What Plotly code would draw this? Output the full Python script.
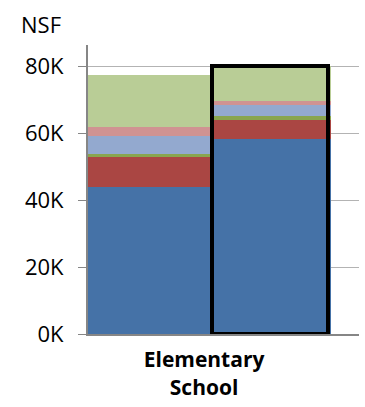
import plotly.graph_objects as go

# Data (NSF)
bar_positions = [0, 1]
series_names = ["Series 1", "Series 2", "Series 3", "Series 4", "Series 5", "Series 6"]
series_colors = ["#4572A7", "#AA4643", "#89A54E", "#93A9CF", "#D09392", "#B9CD96"]
series_1 = [43900, 58300]
series_2 = [9000, 5800]
series_3 = [800, 1100]
series_4 = [5600, 3300]
series_5 = [2500, 1200]
series_6 = [15700, 10300]
all_series = [series_1, series_2, series_3, series_4, series_5, series_6]

category_label = "<b>Elementary</b><br><b>School</b>"
y_tick_vals = [0, 20000, 40000, 60000, 80000]
y_tick_text = ["0K", "20K", "40K", "60K", "80K"]
highlight_index = 1

FONT = "Open Sans"

fig = go.Figure()
for name, color, vals in zip(series_names, series_colors, all_series):
    fig.add_trace(go.Bar(
        x=bar_positions, y=vals, name=name, width=1,
        marker=dict(color=color, line=dict(width=0)),
        xaxis="x", yaxis="y",
    ))

total_highlight = sum(s[highlight_index] for s in all_series)
fig.add_trace(go.Bar(
    x=[bar_positions[highlight_index]], y=[total_highlight], width=0.955,
    marker=dict(color="rgba(0,0,0,0)", line=dict(color="black", width=4)),
    xaxis="x2", yaxis="y", showlegend=False, hoverinfo="skip",
))

xr = [-0.5, 1.73]
fig.update_layout(
    barmode="stack",
    width=365, height=407,
    margin=dict(l=88, r=6, t=45, b=70),
    paper_bgcolor="white", plot_bgcolor="white",
    showlegend=False,
    font=dict(family=FONT, size=22, color="black"),
    xaxis=dict(
        range=xr, tickvals=[0.455], ticktext=[category_label],
        showgrid=False, zeroline=False,
        showline=True, linecolor="#868686", linewidth=2,
        ticks="", ticklabelstandoff=6,
        tickfont=dict(family=FONT, size=21, color="black"),
    ),
    xaxis2=dict(range=xr, overlaying="x", visible=False),
    yaxis=dict(
        range=[0, 86400], tickvals=y_tick_vals, ticktext=y_tick_text,
        showgrid=True, gridcolor="#B3B3B3", gridwidth=1,
        zeroline=False, showline=True, linecolor="#868686", linewidth=2,
        ticks="outside", ticklen=8, tickcolor="#868686", tickwidth=1,
        ticklabelstandoff=10,
        tickfont=dict(family=FONT, size=22, color="black"),
    ),
    annotations=[dict(
        text="NSF", xref="paper", yref="paper", x=-0.255, y=1.0,
        xanchor="left", yanchor="bottom", yshift=4, showarrow=False,
        font=dict(family=FONT, size=22, color="black"),
    )],
)

fig.write_html("out.html")
